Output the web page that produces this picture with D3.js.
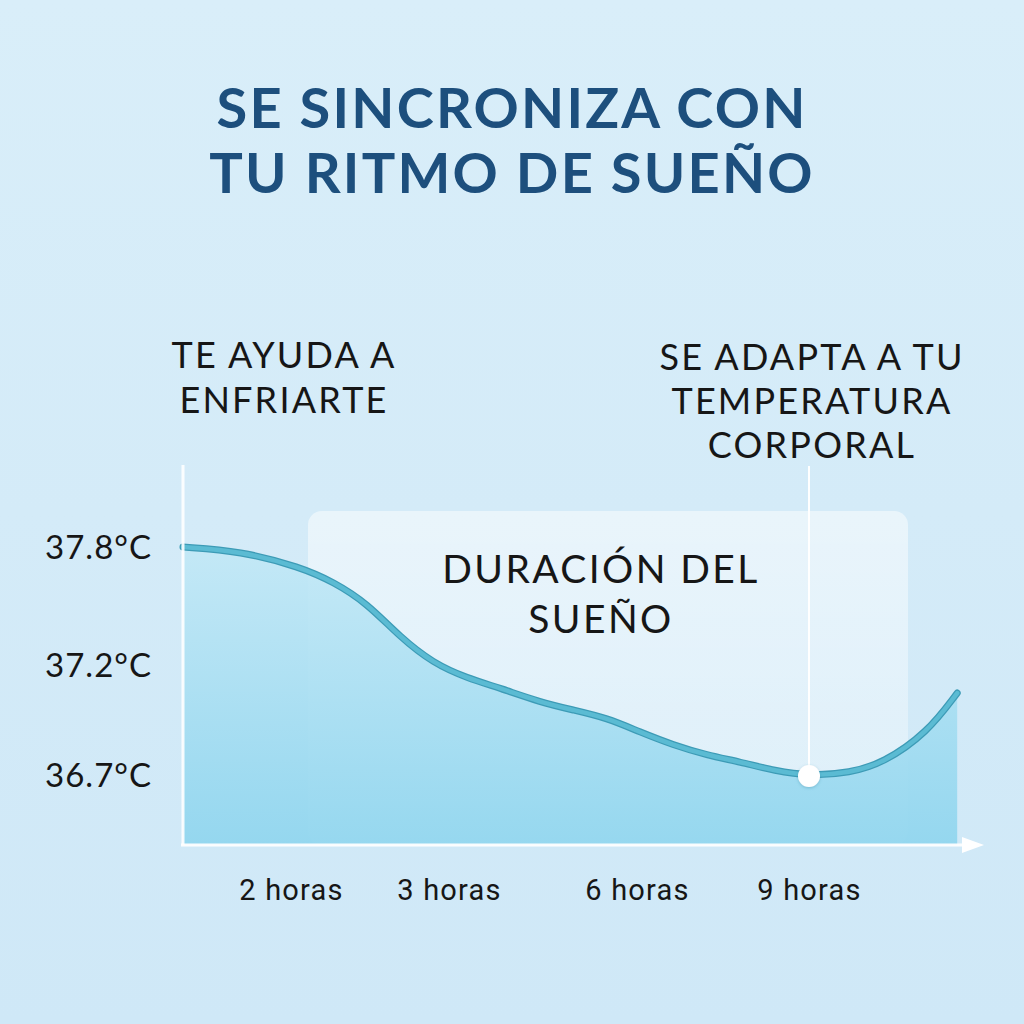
<!DOCTYPE html>
<html><head><meta charset="utf-8">
<script src="https://cdn.jsdelivr.net/npm/d3@7"></script>
<style>html,body{margin:0;padding:0;background:#d6edf9;}svg{display:block;}</style>
</head><body>
<svg id="c" width="1024" height="1024"></svg>
<script>
// ---- data ----
const titleLines = ["SE SINCRONIZA CON", "TU RITMO DE SUEÑO"];
const leftNote = ["TE AYUDA A", "ENFRIARTE"];
const rightNote = ["SE ADAPTA A TU", "TEMPERATURA", "CORPORAL"];
const boxLabel = ["DURACIÓN DEL", "SUEÑO"];
const xTicks = [2, 3, 6, 9];
const xTickSuffix = " horas";
const yTicks = [36.7, 37.2, 37.8];
const hours = [0, 1.06, 2.06, 2.27, 2.48, 2.69, 2.90, 3.29, 3.81, 4.45, 4.98, 5.52, 6.05, 6.63, 7.22, 7.80, 8.41, 9, 9.72, 10.30, 11.07, 11.6];
const temps = [37.805, 37.785, 37.703, 37.627, 37.520, 37.347, 37.214, 37.145, 37.100, 37.036, 37.000, 36.964, 36.900, 36.841, 36.795, 36.764, 36.723, 36.70, 36.714, 36.759, 36.895, 37.077];
const markerHour = 9, markerTemp = 36.7;

const svg = d3.select("#c");
const defs = svg.append("defs");

// background gradient
const bg = defs.append("linearGradient").attr("id","bg").attr("x1",0).attr("y1",0).attr("x2",0).attr("y2",1);
bg.append("stop").attr("offset","0%").attr("stop-color","#d9eef9");
bg.append("stop").attr("offset","100%").attr("stop-color","#cfe8f7");
svg.append("rect").attr("width",1024).attr("height",1024).attr("fill","url(#bg)");

// scales (piecewise as in the picture)
const x = d3.scaleLinear().domain([0, 2, 3, 6, 9, 12]).range([183, 291, 449, 637, 809, 980]);
const y = d3.scaleLinear().domain([36.7, 37.2, 37.8]).range([776, 666, 548]);
const baseY = 845;

// title
svg.append("g").selectAll("text").data(titleLines).join("text")
  .attr("x", 512).attr("y", (d,i)=>128 + i*65)
  .attr("text-anchor","middle")
  .attr("font-family","Lato, 'Noto Sans', sans-serif").attr("font-weight",700)
  .attr("font-size",56).attr("fill","#1d4f7d").attr("letter-spacing",2.2)
  .text(d=>d);

// notes
function block(lines, cx, y0, lh, fs, ls) {
  svg.append("g").selectAll("text").data(lines).join("text")
    .attr("x", cx).attr("y",(d,i)=>y0 + i*lh).attr("text-anchor","middle")
    .attr("font-family","Lato, 'Noto Sans', sans-serif").attr("font-weight",400)
    .attr("font-size",fs).attr("letter-spacing",ls).attr("fill","#161616").text(d=>d);
}
block(leftNote, 284, 368, 45, 36, 2.2);
block(rightNote, 812, 370, 44, 36, 2.2);

// sleep-duration box
const boxG = defs.append("linearGradient").attr("id","boxg").attr("x1",0).attr("y1",0).attr("x2",0).attr("y2",1);
boxG.append("stop").attr("offset","0%").attr("stop-color","#ffffff").attr("stop-opacity",0.5);
boxG.append("stop").attr("offset","100%").attr("stop-color","#ffffff").attr("stop-opacity",0.25);
svg.append("rect").attr("x",308).attr("y",511).attr("width",600).attr("height",baseY-511)
  .attr("rx",14).attr("fill","url(#boxg)");

// area
const areaG = defs.append("linearGradient").attr("id","areag").attr("x1",0).attr("y1",0).attr("x2",0).attr("y2",1);
areaG.append("stop").attr("offset","0%").attr("stop-color","#c2e8f6");
areaG.append("stop").attr("offset","100%").attr("stop-color","#8ed5ee");
const pts = hours.map((h,i)=>[h, temps[i]]);
const curve = d3.curveBasis;
const area = d3.area().x(d=>x(d[0])).y0(baseY).y1(d=>y(d[1])).curve(curve);
svg.append("path").datum(pts).attr("d",area).attr("fill","url(#areag)").attr("opacity",0.9);

// box text
block(boxLabel, 601, 583, 50, 39, 2.4);

// curve
const line = d3.line().x(d=>x(d[0])).y(d=>y(d[1])).curve(curve);
svg.append("path").datum(pts).attr("d",line).attr("fill","none")
  .attr("stroke","#3d9bb6").attr("stroke-width",7).attr("stroke-linecap","round");
svg.append("path").datum(pts).attr("d",line).attr("fill","none")
  .attr("stroke","#5bbbd3").attr("stroke-width",4.5).attr("stroke-linecap","round");

// axes lines
svg.append("line").attr("x1",183).attr("x2",183).attr("y1",465).attr("y2",baseY)
  .attr("stroke","#ffffff").attr("stroke-width",3).attr("opacity",0.9);
svg.append("line").attr("x1",181).attr("x2",965).attr("y1",baseY).attr("y2",baseY)
  .attr("stroke","#ffffff").attr("stroke-width",3).attr("opacity",0.95);
svg.append("path").attr("d",`M962,${baseY-8}L984,${baseY}L962,${baseY+8}Z`).attr("fill","#ffffff");

// vertical marker line
svg.append("line").attr("x1",x(markerHour)).attr("x2",x(markerHour)).attr("y1",466).attr("y2",y(markerTemp))
  .attr("stroke","#ffffff").attr("stroke-width",2);
const sh = defs.append("filter").attr("id","sh").attr("x","-50%").attr("y","-50%").attr("width","200%").attr("height","200%");
sh.append("feDropShadow").attr("dx",0).attr("dy",1).attr("stdDeviation",1.5).attr("flood-color","#3a8aa5").attr("flood-opacity",0.4);
svg.append("circle").attr("cx",x(markerHour)).attr("cy",y(markerTemp)).attr("r",11)
  .attr("fill","#ffffff").attr("filter","url(#sh)");

// y axis labels
const yAxis = svg.append("g").attr("transform","translate(183,0)")
  .call(d3.axisLeft(y).tickValues(yTicks).tickSize(0).tickPadding(31).tickFormat(d=>d.toFixed(1)+"°C"));
yAxis.select(".domain").remove();
yAxis.selectAll("text").attr("font-family","Lato, 'Noto Sans', sans-serif").attr("font-size",33)
  .attr("letter-spacing",1).attr("fill","#161616");

// x axis labels
const xAxis = svg.append("g").attr("transform",`translate(0,${baseY})`)
  .call(d3.axisBottom(x).tickValues(xTicks).tickSize(0).tickPadding(34).tickFormat(d=>d+xTickSuffix));
xAxis.select(".domain").remove();
xAxis.selectAll("text").attr("font-family","Roboto, 'Noto Sans', sans-serif").attr("font-size",29)
  .attr("letter-spacing",1.2).attr("fill","#161616");
</script>
</body></html>
